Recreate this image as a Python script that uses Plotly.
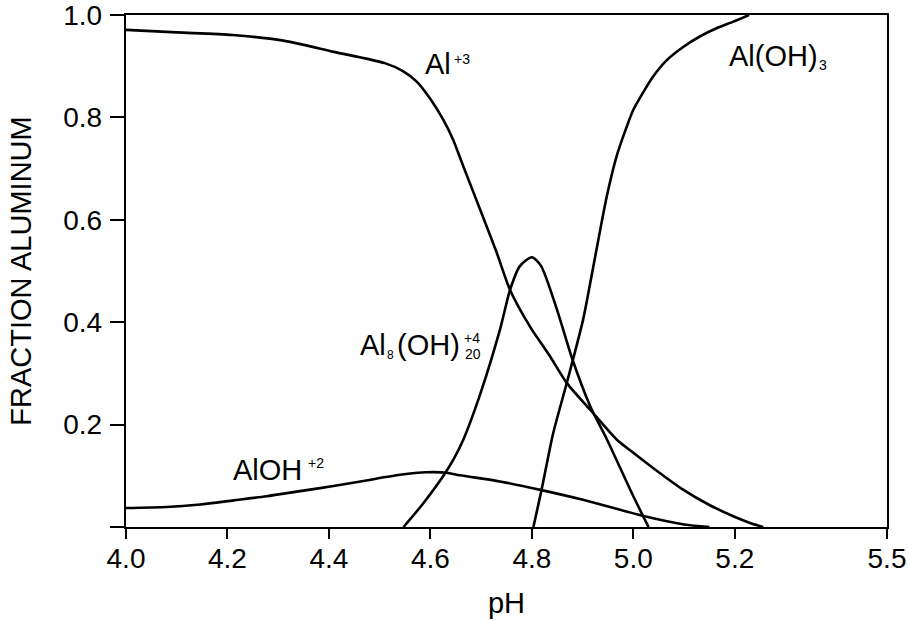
import plotly.graph_objects as go

# ---- data ----
ph_al3 = [4.00, 4.10, 4.21, 4.31, 4.41, 4.51, 4.545, 4.573, 4.60, 4.625, 4.645, 4.665, 4.698,
          4.731, 4.757, 4.796, 4.836, 4.869, 4.915, 4.967, 5.00, 5.05, 5.098, 5.15, 5.197, 5.23, 5.256]
frac_al3 = [0.971, 0.966, 0.961, 0.950, 0.928, 0.906, 0.891, 0.870, 0.836, 0.796, 0.756, 0.704, 0.620,
            0.535, 0.463, 0.392, 0.333, 0.281, 0.229, 0.171, 0.145, 0.107, 0.073, 0.043, 0.021, 0.008, 0.0]

ph_aloh = [4.00, 4.08, 4.146, 4.212, 4.277, 4.343, 4.409, 4.474, 4.540, 4.593, 4.632, 4.658,
           4.737, 4.819, 4.901, 5.018, 5.10, 5.15]
frac_aloh = [0.037, 0.039, 0.044, 0.052, 0.060, 0.070, 0.080, 0.091, 0.102, 0.107, 0.106, 0.101,
             0.089, 0.072, 0.053, 0.022, 0.005, 0.0]

ph_al8 = [4.547, 4.585, 4.625, 4.645, 4.665, 4.70, 4.737, 4.757, 4.776, 4.80, 4.818, 4.849,
          4.879, 4.915, 4.948, 5.00, 5.03]
frac_al8 = [0.0, 0.045, 0.099, 0.131, 0.171, 0.265, 0.385, 0.463, 0.509, 0.527, 0.510, 0.426,
            0.330, 0.236, 0.171, 0.060, 0.0]

ph_aloh3 = [4.803, 4.819, 4.842, 4.869, 4.901, 4.921, 4.9475, 4.967, 4.987, 5.00, 5.02, 5.039,
            5.066, 5.099, 5.131, 5.164, 5.197, 5.228]
frac_aloh3 = [0.0, 0.072, 0.183, 0.282, 0.405, 0.508, 0.645, 0.724, 0.782, 0.815, 0.850, 0.880,
              0.912, 0.938, 0.958, 0.974, 0.987, 1.0]

x_ticks = [4.0, 4.2, 4.4, 4.6, 4.8, 5.0, 5.2, 5.5]
x_labels = ["4.0", "4.2", "4.4", "4.6", "4.8", "5.0", "5.2", "5.5"]
y_ticks = [0.2, 0.4, 0.6, 0.8, 1.0]
y_labels = ["0.2", "0.4", "0.6", "0.8", "1.0"]

FONT = "Liberation Sans, Arial, Helvetica, sans-serif"
MAIN = 29
SMALL = 14

fig = go.Figure()
for name, xs, ys in [("Al+3", ph_al3, frac_al3), ("AlOH+2", ph_aloh, frac_aloh),
                     ("Al8(OH)20+4", ph_al8, frac_al8), ("Al(OH)3", ph_aloh3, frac_aloh3)]:
    fig.add_trace(go.Scatter(x=xs, y=ys, mode="lines", name=name, showlegend=False,
                             line=dict(color="black", width=2.6, shape="spline", smoothing=0.7)))

# species labels: (x, y, text, font size)
labels = [
    (4.586, 0.904, "Al", MAIN), (4.643, 0.915, "+3", SMALL),
    (5.184, 0.920, "Al(OH)", MAIN), (5.362, 0.902, "3", SMALL),
    (4.458, 0.356, "Al", MAIN), (4.510, 0.335, "8", 12), (4.530, 0.356, "(OH)", MAIN),
    (4.662, 0.369, "+4", SMALL), (4.665, 0.337, "20", SMALL),
    (4.206, 0.112, "AlOH", MAIN), (4.355, 0.125, "+2", SMALL),
]
annotations = [dict(x=x, y=y, text=t, xref="x", yref="y", xanchor="left", yanchor="middle",
                    showarrow=False, font=dict(family=FONT, size=s, color="black"))
               for x, y, t, s in labels]

axis_common = dict(showline=True, linecolor="black", linewidth=2.4, mirror=True,
                   ticks="outside", tickcolor="black", tickwidth=2.4,
                   showgrid=False, zeroline=False, automargin=False,
                   ticklabeloverflow="allow",
                   tickfont=dict(family=FONT, size=28, color="black"))

fig.update_layout(
    width=908, height=621,
    margin=dict(l=126, r=21, t=15, b=94, autoexpand=False),
    paper_bgcolor="white", plot_bgcolor="white",
    font=dict(family=FONT, color="black"),
    annotations=annotations,
    xaxis=dict(axis_common, range=[4.0, 5.5], tickvals=x_ticks, ticktext=x_labels, ticklen=10,
               ticklabelstandoff=-5,
               title=dict(text="pH", font=dict(family=FONT, size=29, color="black"), standoff=20)),
    yaxis=dict(axis_common, range=[0, 1.0], tickvals=y_ticks, ticktext=y_labels, ticklen=14,
               ticklabelstandoff=2,
               minor=dict(tickvals=[0.0], ticks="outside", ticklen=14, tickwidth=2.4, tickcolor="black"),
               title=dict(text="FRACTION ALUMINUM", font=dict(family=FONT, size=29, color="black"),
                          standoff=23)),
)

fig.write_html("out.html", config={"displayModeBar": False},
               post_script="document.body.style.margin='0';")
